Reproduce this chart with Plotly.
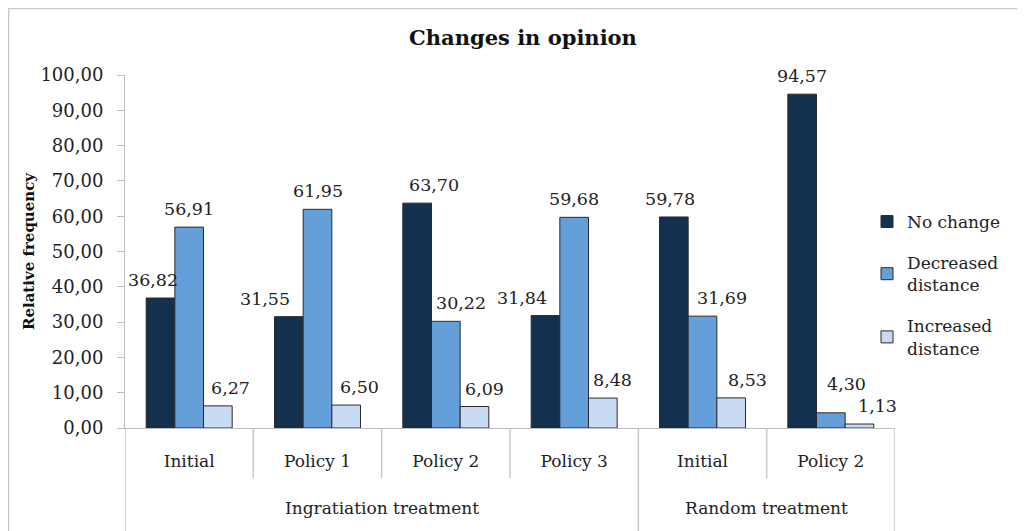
import plotly.graph_objects as go

groups = ["Ingratiation treatment", "Random treatment"]
group_sizes = [4, 2]
stages = ["Initial", "Policy 1", "Policy 2", "Policy 3", "Initial", "Policy 2"]

no_change = [36.82, 31.55, 63.70, 31.84, 59.78, 94.57]
decreased = [56.91, 61.95, 30.22, 59.68, 31.69, 4.30]
increased = [6.27, 6.50, 6.09, 8.48, 8.53, 1.13]

series_names = ["No change", "Decreased<br>distance", "Increased<br>distance"]
series_vals = [no_change, decreased, increased]
colors = ["#14304F", "#659FDA", "#C9DBF2"]

# data-label placement tweaks (pixels), as in the original (collision avoidance)
label_dx = [
    [-8, -24, 17, -24, -4, 0],
    [0, 0, 15, 0, 19, 16],
    [13, 13, 10, 10, 16, 18],
]
label_dy = [
    [18] * 6,
    [18, 18, 18, 18, 18, 29],
    [18] * 6,
]

FONT = "DejaVu Serif"
FS = 17
LFS = 17.5

def fmt(v):
    return f"{v:.2f}".replace(".", ",")

xpos = list(range(len(stages)))
BARGAP = 0.33
nser = len(series_vals)
bw = (1 - BARGAP) / nser

fig = go.Figure()
for i, (name, vals, col) in enumerate(zip(series_names, series_vals, colors)):
    fig.add_trace(go.Bar(
        x=xpos, y=vals, name=name,
        marker=dict(color=col, line=dict(color="#2a2a2a", width=1)),
        legendgroup=f"g{i}",
    ))

# data labels on top of all bars
for i, vals in enumerate(series_vals):
    center_off = -(1 - BARGAP) / 2 + (i + 0.5) * bw
    for j, v in enumerate(vals):
        fig.add_annotation(x=xpos[j] + center_off, y=v, xref="x", yref="y",
                           text=fmt(v), showarrow=False, yanchor="middle",
                           xshift=label_dx[i][j], yshift=label_dy[i][j],
                           font=dict(family=FONT, size=LFS, color="#222"))

# plot area: window x 125..895, y 75..428 (page has 8px body offset)
W, H = 1017, 523
L, T = 117, 67
PW, PH = 770, 353
R = W - L - PW
B = H - T - PH

def py(win_y):
    return (428 - win_y) / PH

def px(win_x):
    return (win_x - 125) / PW

fig.update_layout(
    width=W, height=H,
    margin=dict(l=L, r=R, t=T, b=B),
    paper_bgcolor="white", plot_bgcolor="white",
    barmode="group", bargap=BARGAP, bargroupgap=0,
    separators=", ",
    font=dict(family=FONT, size=FS, color="#222"),
    title=dict(text="<b>Changes in opinion</b>", x=px(523), xanchor="center", xref="paper",
               y=1 - 30 / H, yanchor="middle", font=dict(family=FONT, size=21, color="#111")),
    legend=dict(x=px(867), y=py(204), xanchor="left", yanchor="top",
                font=dict(family=FONT, size=FS, color="#222"),
                tracegroupgap=16, itemwidth=30),
    showlegend=True,
)
fig.update_yaxes(range=[0, 100], dtick=10, tickformat=".2f",
                 showgrid=False, showline=True, linecolor="#BFBFBF",
                 ticks="outside", ticklen=7, tickcolor="#BFBFBF", ticklabelstandoff=10,
                 tickfont=dict(family=FONT, size=18, color="#222"),
                 title=dict(text="<b>Relative frequency</b>", standoff=2,
                            font=dict(family=FONT, size=15, color="#111")),
                 zeroline=False)
fig.update_xaxes(range=[-0.5, len(stages) - 0.5], tickvals=xpos, ticktext=stages,
                 showline=True, linecolor="#BFBFBF", ticks="", showgrid=False,
                 zeroline=False, ticklabelstandoff=18,
                 tickfont=dict(family=FONT, size=FS, color="#222"))

# category dividers
start = -0.5
short_y = py(478)
long_y = py(531)
bounds_long = [start]
pos = start
for n in group_sizes:
    pos += n
    bounds_long.append(pos)
for b in range(len(stages) + 1):
    xb = b - 0.5
    is_long = xb in bounds_long
    fig.add_shape(type="line", xref="x", yref="paper", x0=xb, x1=xb,
                  y0=0, y1=long_y if is_long else short_y,
                  line=dict(color="#C8C8C8", width=1.5))

# group labels
pos = start
for g, n in zip(groups, group_sizes):
    fig.add_annotation(x=pos + n / 2, y=py(508), xref="x", yref="paper",
                       text=g, showarrow=False, yanchor="middle",
                       font=dict(family=FONT, size=FS, color="#222"))
    pos += n

# chart frame (left and top edges)
fig.add_shape(type="line", xref="paper", yref="paper", x0=px(8.5), x1=px(8.5),
              y0=py(8), y1=py(531), line=dict(color="#C8C8C8", width=1.5))
fig.add_shape(type="line", xref="paper", yref="paper", x0=px(8), x1=px(1025),
              y0=py(8.5), y1=py(8.5), line=dict(color="#C8C8C8", width=1.5))

fig.write_html("out.html")
